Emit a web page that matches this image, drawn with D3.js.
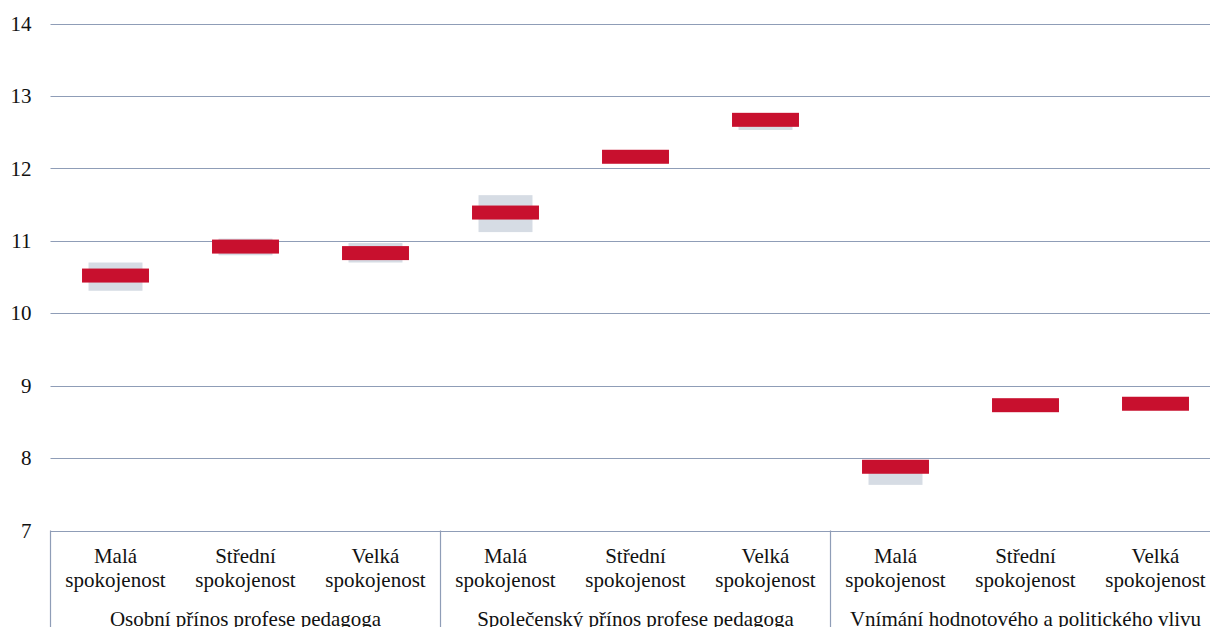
<!DOCTYPE html>
<html>
<head>
<meta charset="utf-8">
<script src="https://cdn.jsdelivr.net/npm/d3@7"></script>
<style>
  body { margin: 0; background: #fff; }
  svg { display: block; }
  text { font-family: "Liberation Serif", "Times New Roman", serif; font-size: 21px; fill: #111; }
  .grid line { stroke: #8f9db7; stroke-width: 1.2; }
  .axis--y .domain { display: none; }
</style>
</head>
<body>
<div id="chart"></div>
<script>
var groups = ["Osobní přínos profese pedagoga", "Společenský přínos profese pedagoga", "Vnímání hodnotového a politického vlivu"];
var levels = [["Malá", "spokojenost"], ["Střední", "spokojenost"], ["Velká", "spokojenost"]];
var means = [10.52, 10.92, 10.83, 11.39, 12.16, 12.67, 7.88, 8.73, 8.75];
var lower = [10.31, 10.80, 10.70, 11.12, 12.12, 12.53, 7.63, 8.70, 8.72];
var upper = [10.70, 11.03, 10.97, 11.63, 12.20, 12.71, 7.95, 8.77, 8.78];
var yTicks = [7, 8, 9, 10, 11, 12, 13, 14];

var width = 1210, height = 627;
var plotLeft = 50.5, plotRight = 1220.5, plotTop = 23.5, plotBottom = 530.5;

var rows = [];
groups.forEach(function(g, gi) {
    levels.forEach(function(l, li) {
        var i = gi * levels.length + li;
        rows.push({ key: i, group: gi, level: l, mean: means[i], lo: lower[i], hi: upper[i] });
    });
});

var svg = d3.select("#chart").append("svg")
    .attr("width", width)
    .attr("height", height);

var x = d3.scaleBand()
    .domain(rows.map(function(d) { return d.key; }))
    .range([plotLeft, plotRight]);

var xGroup = d3.scaleBand()
    .domain(groups)
    .range([plotLeft, plotRight]);

var y = d3.scaleLinear()
    .domain([7, 14])
    .range([plotBottom, plotTop]);

// gridlines
svg.append("g")
    .attr("class", "grid")
    .selectAll("line")
    .data(yTicks)
    .enter().append("line")
    .attr("x1", plotLeft)
    .attr("x2", plotRight)
    .attr("y1", function(d) { return Math.round(y(d)) + 0.5; })
    .attr("y2", function(d) { return Math.round(y(d)) + 0.5; });

// y axis labels
svg.append("g")
    .attr("class", "axis axis--y")
    .attr("transform", "translate(" + plotLeft + ",0)")
    .call(d3.axisLeft(y).tickValues(yTicks).tickSize(0).tickPadding(19).tickFormat(d3.format("d")))
    .selectAll("text")
    .style("font-size", "21px")
    .style("font-family", "'Liberation Serif', 'Times New Roman', serif")
    .attr("fill", "#111");

// group separators in the category box
svg.append("g")
    .attr("class", "grid")
    .selectAll("line")
    .data(groups.concat(["end"]))
    .enter().append("line")
    .attr("x1", function(d, i) { return i < groups.length ? xGroup(d) : plotRight; })
    .attr("x2", function(d, i) { return i < groups.length ? xGroup(d) : plotRight; })
    .attr("y1", plotBottom)
    .attr("y2", height + 5);

// confidence ranges
var greyW = x.bandwidth() * 0.415;
svg.append("g")
    .selectAll("rect")
    .data(rows)
    .enter().append("rect")
    .attr("x", function(d) { return x(d.key) + (x.bandwidth() - greyW) / 2; })
    .attr("width", greyW)
    .attr("y", function(d) { return y(d.hi); })
    .attr("height", function(d) { return y(d.lo) - y(d.hi); })
    .attr("fill", "#d6dce4");

// means
var redW = x.bandwidth() * 0.515, redH = 14;
svg.append("g")
    .selectAll("rect")
    .data(rows)
    .enter().append("rect")
    .attr("x", function(d) { return x(d.key) + (x.bandwidth() - redW) / 2; })
    .attr("width", redW)
    .attr("y", function(d) { return y(d.mean) - redH / 2; })
    .attr("height", redH)
    .attr("fill", "#c8102e");

// category labels
var cat = svg.append("g")
    .selectAll("text")
    .data(rows)
    .enter().append("text")
    .attr("text-anchor", "middle")
    .attr("x", function(d) { return x(d.key) + x.bandwidth() / 2; });

cat.append("tspan")
    .attr("y", 563)
    .attr("x", function(d) { return x(d.key) + x.bandwidth() / 2; })
    .text(function(d) { return d.level[0]; });

cat.append("tspan")
    .attr("y", 587)
    .attr("x", function(d) { return x(d.key) + x.bandwidth() / 2; })
    .text(function(d) { return d.level[1]; });

svg.append("g")
    .selectAll("text")
    .data(groups)
    .enter().append("text")
    .attr("text-anchor", "middle")
    .attr("x", function(d) { return xGroup(d) + xGroup.bandwidth() / 2; })
    .attr("y", 626)
    .text(function(d) { return d; });
</script>
</body>
</html>
